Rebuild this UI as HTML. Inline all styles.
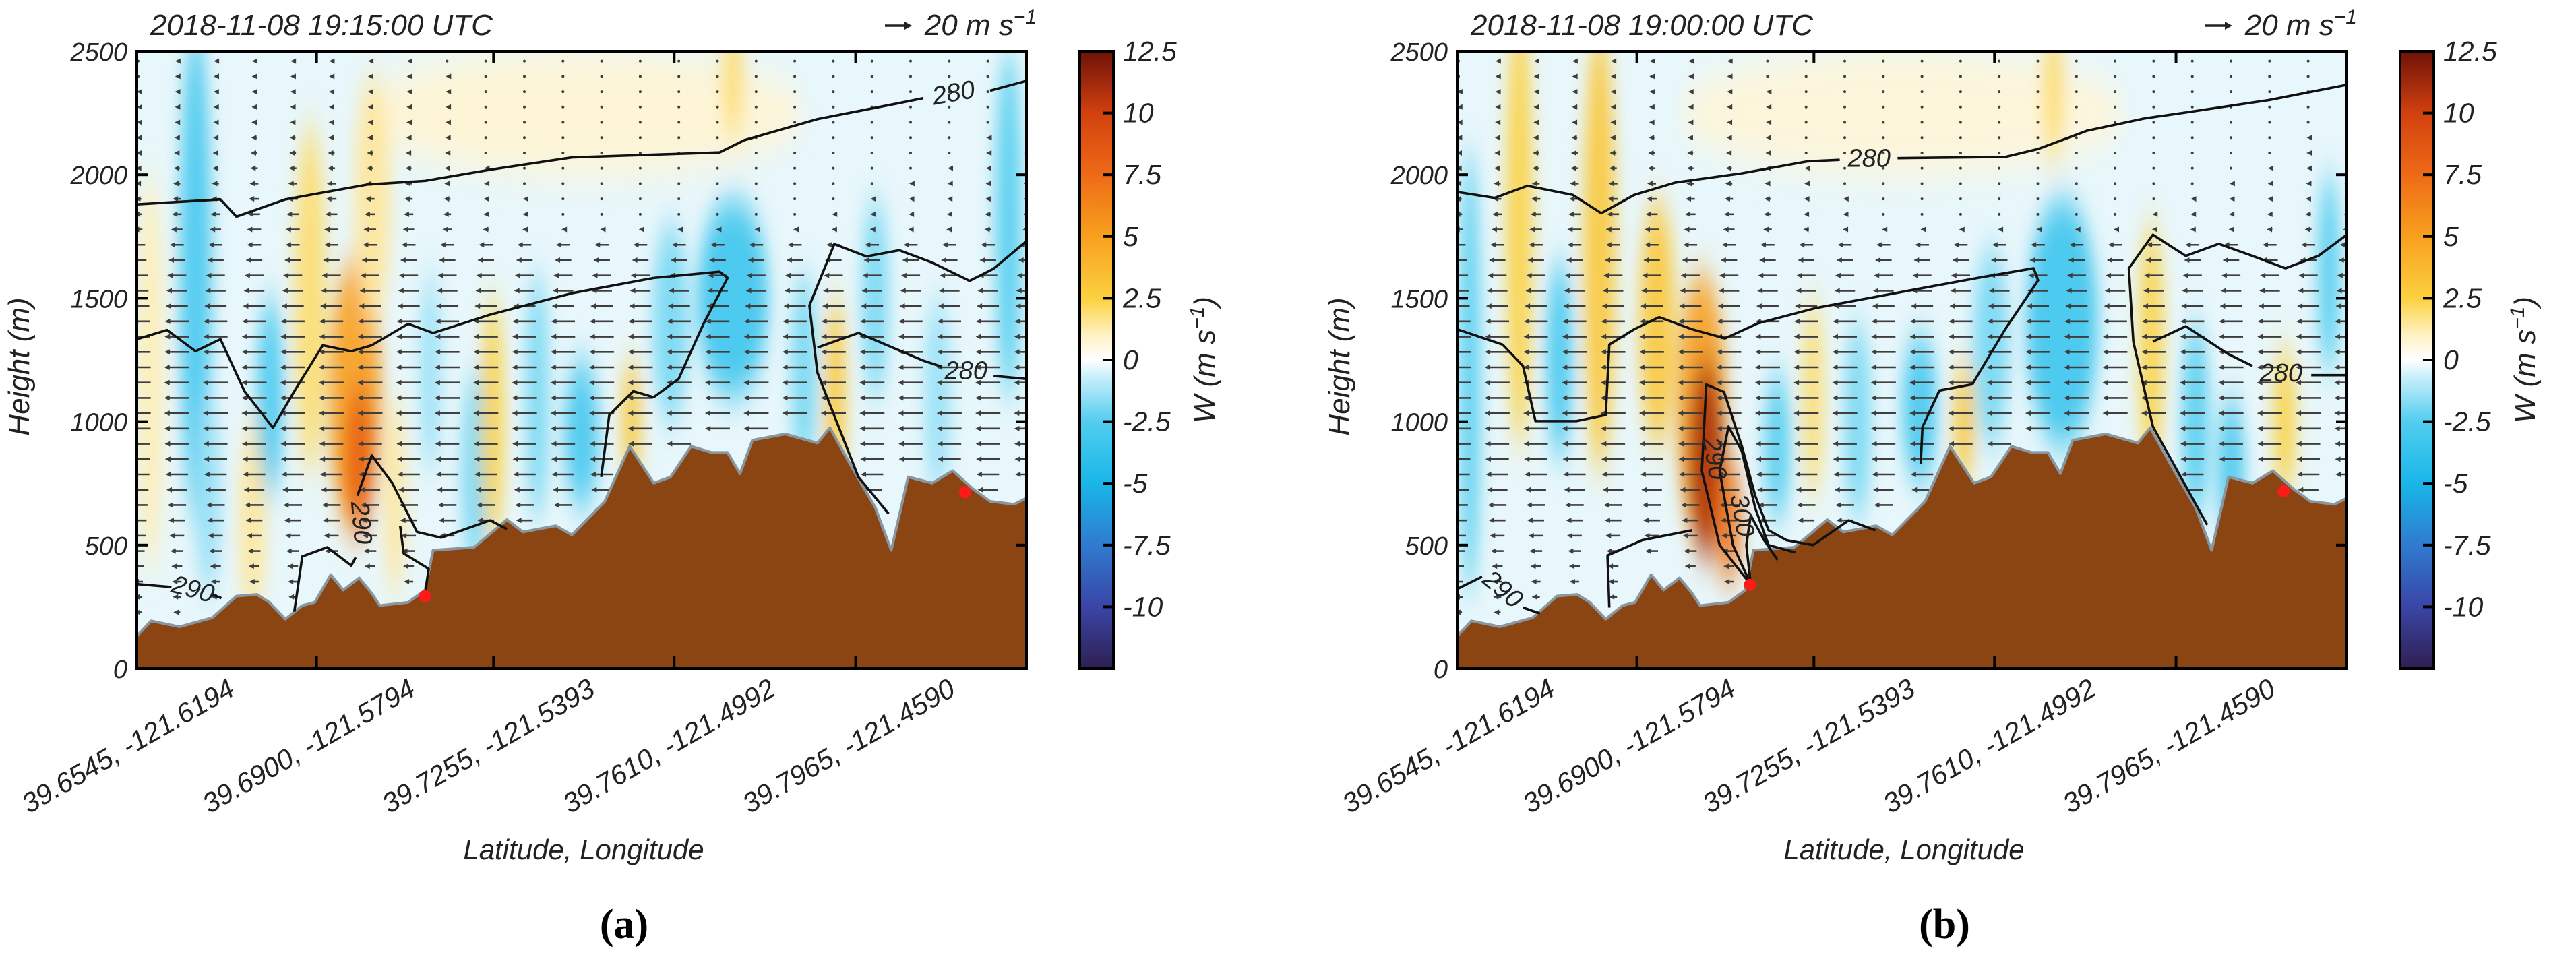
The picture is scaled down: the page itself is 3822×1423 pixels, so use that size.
<!DOCTYPE html>
<html><head><meta charset="utf-8"><style>
html,body{margin:0;padding:0;background:#fff;}
svg{display:block;font-family:"Liberation Sans",Arial,sans-serif;}
</style></head><body>
<svg id="root" width="3822" height="1423" viewBox="0 0 3822 1423" xmlns="http://www.w3.org/2000/svg">
<defs>
<filter id="blur" x="-50%" y="-50%" width="200%" height="200%"><feGaussianBlur stdDeviation="12 28"/></filter>
<linearGradient id="cbar" x1="0" y1="1" x2="0" y2="0">
<stop offset="0" stop-color="#2e1f52"/><stop offset="0.1" stop-color="#3a45a6"/><stop offset="0.2" stop-color="#2f7bcf"/>
<stop offset="0.3" stop-color="#19b6e8"/><stop offset="0.4" stop-color="#52cdf0"/><stop offset="0.47" stop-color="#c4eefa"/>
<stop offset="0.5" stop-color="#ffffff"/><stop offset="0.54" stop-color="#fff1c4"/><stop offset="0.6" stop-color="#fcd140"/>
<stop offset="0.7" stop-color="#f8a01e"/><stop offset="0.8" stop-color="#ee6a16"/><stop offset="0.9" stop-color="#d2400f"/>
<stop offset="1" stop-color="#6e1208"/>
</linearGradient>
<clipPath id="clipA"><rect x="203" y="76" width="1320" height="916"/></clipPath>
<clipPath id="clipB"><rect x="2162" y="76" width="1320" height="916"/></clipPath>
</defs>
</svg>
<script>
// ---- data ----
const yTicks=[0,500,1000,1500,2000,2500];
const xTickLabels=["39.6545, -121.6194","39.6900, -121.5794","39.7255, -121.5393","39.7610, -121.4992","39.7965, -121.4590"];
const xTickPos=[20.2,40.1,60.4,80.8];
const xLabelPos=[11.2,31.5,51.7,72.0,92.2];
const cbTicks=[12.5,10,7.5,5,2.5,0,-2.5,-5,-7.5,-10];
const terrainX=[0,1.6,4.8,8.5,11.2,13.5,14.9,16.7,18.6,20,21.8,23.2,25,26.4,27.3,30.5,32.4,33.3,37.9,41.6,43.4,47.1,48.9,52.6,55.4,58.1,60,62.3,64.6,66.4,67.8,69.2,72.9,76.5,77.9,80.2,83,84.8,86.7,89.4,91.7,94,95.9,98.6,100];
const terrainH=[131,193,169,206,293,300,268,200,255,268,380,318,367,305,255,268,318,479,491,603,553,578,541,677,900,751,776,900,875,875,789,925,950,913,975,826,652,479,776,751,801,727,677,665,690];
const uHeights=[2500,2200,2000,1800,1600,1400,1200,1000,800,600,400,200];
const uSpeeds=[-1.5,-2,-3,-5,-9,-11.5,-12,-12,-11,-8,-5,-3];
const upperScaleA=[1.5,2,2,2.5,2.5,2.5,2.2,2,1.6,1,0.7,0.5,0.5,0.5,0.5,0.5,0.5,0.5,0.6,0.7,0.8,1,1.2,1.3];
const upperScaleB=[1.5,2,2.2,2.5,2.5,2.5,2.2,2,1.5,1,0.7,0.5,0.5,0.5,0.5,0.5,0.5,0.5,0.6,0.7,0.8,1,1.2,1.3];
const plumesA=[[50,2250,25,250,0.8],[1.5,1200,1.5,800,1.2],[6.6,1600,1.8,1000,-3],[8,700,1.5,400,-1.5],[13,600,1.5,400,1.5],[15,1100,1.5,400,-3],[19.5,1500,1.8,700,2],[24.5,1100,3,550,5],[25,850,1.7,300,8],[26.5,1900,2,500,1.5],[29,700,1.2,400,1.5],[33,1200,1.2,400,-1.5],[38,800,1.5,400,-2],[40,1000,1.3,500,2.5],[45,1100,1.3,500,-2],[50,950,2,300,-3],[55.6,1000,1.1,250,3],[60,1400,2,400,-2],[67,1500,4,400,-3.5],[67,2400,1.2,250,2],[75,1200,1.5,400,-2],[78.5,1100,1.2,400,3],[83,1500,1.5,400,-2],[90,1100,1.5,400,-1.5],[98,1800,1.5,700,-2.5]];
const plumesB=[[50,2250,25,250,0.7],[1.4,1200,1.2,900,-2.5],[7,1800,1.5,900,2.5],[11.5,1250,1.5,400,-3],[16,1700,1.8,900,3],[22.5,1400,2,500,3],[27.5,1050,2.8,550,5],[28,850,2,400,11],[30.5,600,1.5,250,7],[36,900,1.5,300,-2.5],[40,1100,1.2,400,2],[45,1000,1.5,400,-2],[52,1050,2,300,-3],[57,1000,1.2,250,3],[60,1300,2,400,-2],[68,1400,4,500,-3.5],[67,2350,1.2,300,2],[78,1300,1.4,500,2.5],[83,1000,1.5,400,-2.5],[87,800,1.5,300,-3],[93,1000,1.3,300,2.5],[98,1600,1.3,400,-2.5]];
const contoursA=[
[[0,1880],[9.4,1900],[11.2,1830],[16.7,1900],[25.9,1960],[32.4,1975],[39.7,2020],[48.9,2070],[65.5,2090],[68.3,2140],[76.5,2225],[85.7,2290],[88.4,2310]],
[[95.9,2340],[100,2380]],
[[0,1334],[3.4,1371],[6.6,1285],[9.4,1334],[12.1,1123],[15.3,975],[17.7,1123],[20.9,1309],[24.1,1285],[26.4,1309],[30.5,1396],[33.3,1359],[39.7,1433],[48.9,1520],[58.1,1582],[65.5,1607],[66.4,1582],[63.7,1396],[60.9,1173],[58.1,1099],[55.8,1123],[53.1,1026],[52.2,776]],
[[84.5,627],[81.1,776],[76.5,1198],[75.6,1470],[78.4,1719],[82,1669],[85.7,1694],[89.4,1644],[93.6,1570],[96.3,1619],[100,1731]],
[[76.5,1300],[81.1,1359],[88.4,1247],[90.5,1222]],
[[96.3,1185],[100,1173]],
[[0,342],[3.9,330]],[[8.5,300],[9.5,285]],
[[17.7,230],[18.6,454],[21.4,491],[24.1,417],[24.6,450]],
[[24.8,700],[26.4,863],[28.7,752],[31.5,553],[34.2,530],[39.7,600],[41.6,565]],
[[29.6,578],[30,466],[32.8,404],[32.4,300]]];
const contoursB=[
[[0,1930],[4.2,1906],[7.9,1955],[13,1918],[16.2,1844],[19.9,1918],[24.5,1968],[31.9,2005],[39.4,2054],[43,2060]],
[[49.5,2067],[61.6,2072],[65.3,2104],[70.8,2178],[77.3,2228],[81.9,2252],[91.2,2302],[100,2364]],
[[0,1374],[5.1,1312],[7.4,1225],[8.8,1002],[13.4,1002],[16.7,1027],[17.1,1312],[19.9,1374],[22.7,1423],[26.4,1374],[30.1,1337],[33.8,1398],[40.3,1460],[49.5,1522],[58.8,1584],[64.8,1621],[65.3,1572],[61.6,1374],[57.9,1151],[54.2,1126],[52.3,978],[52.1,829]],
[[84.3,582],[78.2,980],[76,1324],[75.5,1621],[78.2,1757],[81.9,1671],[85.6,1720],[89.4,1671],[93.1,1621],[96.8,1671],[100,1757]],
[[78.2,1324],[81.9,1386],[86.6,1275],[89.4,1225]],
[[96,1188],[100,1188]],
[[0,322],[2.8,372]],[[7.4,247],[9.3,223]],
[[17.1,247],[16.9,458],[20.8,520],[26.4,560]],
[[33,340],[29.5,500],[27.5,800],[28,1150],[30,1120],[32,900],[33.5,700],[35,560],[37,520],[40,500],[44,600],[47,560]],
[[33,340],[31,500],[29.5,800],[30.5,980],[32,880],[33.5,650],[35,500],[38,470]],
[[33,340],[32.5,500],[33,620],[34.5,520],[36,440]]];
const labelsA=[["280",91.8,2330,-10],["280",93.2,1205,0],["290",6.3,320,15],["290",25.2,590,85]];
const labelsB=[["280",46.3,2065,0],["280",92.6,1195,0],["290",5.1,320,40],["290",28.9,850,80],["300",32,620,80]];
const redDotsA=[[32.4,293],[93.1,714]];
const redDotsB=[[32.9,339],[92.9,718]];

// ---- drawing ----
const NS="http://www.w3.org/2000/svg";
const root=document.getElementById('root');
function mk(tag,attrs,parent){const e=document.createElementNS(NS,tag);for(const k in attrs)e.setAttribute(k,attrs[k]);(parent||root).appendChild(e);return e;}
const stops=[[-12.5,[46,31,82]],[-10,[58,69,166]],[-7.5,[47,123,207]],[-5,[25,182,232]],[-2.5,[82,205,240]],[-0.8,[196,238,250]],[0,[255,255,255]],[1,[255,241,196]],[2.5,[252,209,64]],[5,[248,160,30]],[7.5,[238,106,22]],[10,[210,64,15]],[12.5,[110,18,8]]];
function col(v){v=Math.max(-12.5,Math.min(12.5,v));for(let i=0;i<stops.length-1;i++){const a=stops[i],b=stops[i+1];if(v<=b[0]){const t=(v-a[0])/(b[0]-a[0]);const c=a[1].map((x,j)=>Math.round(x+(b[1][j]-x)*t));return `rgb(${c})`;}}return 'rgb(110,18,8)';}
function interp(xs,ys,x){if(x<=xs[0])return ys[0];for(let i=0;i<xs.length-1;i++){if(x<=xs[i+1]){const t=(x-xs[i])/(xs[i+1]-xs[i]);return ys[i]+(ys[i+1]-ys[i])*t;}}return ys[ys.length-1];}

function panel(cfg){
  const L=cfg.left,T=76,W=1320,H=916,B=T+H;
  const X=p=>L+p/100*W, Y=h=>B-h/2500*H;
  const g=mk('g',{});
  
  
  const field=mk('g',{'clip-path':`url(#${cfg.clip})`},g);
  
  
  mk('rect',{x:L,y:T,width:W,height:H,fill:'#e8f7fb'},field);
  const blurG=mk('g',{filter:'url(#blur)'},field);
  cfg.plumes.forEach(p=>{
    const e=mk('ellipse',{cx:X(p[0]),cy:Y(p[1]),rx:p[2]/100*W,ry:p[3]/2500*H,fill:col(p[4]),opacity:0.9},blurG);
    
    
  });
  const arrows=mk('g',{stroke:'#3e3e3e','stroke-width':2.6,fill:'#3e3e3e'},field);
  
  
  for(let k=0;k<24;k++){
    const px=L+2+k*57.3;const xp=(px-L)/W*100;
    const th=interp(terrainX,terrainH,xp);
    for(let h=2460;h>th+40;h-=62){
      let u=interp(uHeights.slice().reverse(),uSpeeds.slice().reverse(),h);
      if(h>1750)u*=cfg.upper[k]*0.5;
      const len=Math.abs(u)*3.1;const y=Y(h);
      if(len<4){mk('circle',{cx:px,cy:y,r:2,stroke:'none'},arrows);continue;}
      mk('line',{x1:px+len/2,y1:y,x2:px-len/2+4,y2:y},arrows);
      mk('path',{d:`M${px-len/2},${y} l8,-4 l0,8 z`,stroke:'none'},arrows);
    }
  }
  let d=`M${X(0)},${B} `;terrainX.forEach((x,i)=>{d+=`L${X(x)},${Y(terrainH[i])} `;});d+=`L${X(100)},${B} Z`;
  const terr=mk('path',{d:d,fill:'#8b4513',stroke:'#8896a0','stroke-width':4,'stroke-linejoin':'round'},field);
  
  
  cfg.contours.forEach(c=>{
    const pl=mk('polyline',{points:c.map(p=>`${X(p[0])},${Y(p[1])}`).join(' '),fill:'none',stroke:'#111','stroke-width':3.6,'stroke-linejoin':'round'},field);
    
    
  });
  cfg.labels.forEach(l=>{
    const t=mk('text',{x:X(l[1]),y:Y(l[2])+12,'text-anchor':'middle','font-size':38,'font-style':'italic',fill:'#222',transform:`rotate(${l[3]},${X(l[1])},${Y(l[2])})`},field);
    t.textContent=l[0];
    
    
  });
  cfg.dots.forEach(p=>{
    const c=mk('circle',{cx:X(p[0]),cy:Y(p[1]),r:9,fill:'#ff1a1a'},field);
    
    
  });
  const fr=mk('rect',{x:L,y:T,width:W,height:H,fill:'none',stroke:'#000','stroke-width':4},g);
  
  
  yTicks.forEach(v=>{
    mk('line',{x1:L,y1:Y(v),x2:L+16,y2:Y(v),stroke:'#000','stroke-width':4},g);
    mk('line',{x1:L+W,y1:Y(v),x2:L+W-16,y2:Y(v),stroke:'#000','stroke-width':4},g);
    const t=mk('text',{x:L-14,y:Y(v)+14,'text-anchor':'end','font-size':38,'font-style':'italic',fill:'#222'},g);
    t.textContent=v;
    
    
  });
  xTickPos.forEach(p=>{
    mk('line',{x1:X(p),y1:B,x2:X(p),y2:B-18,stroke:'#000','stroke-width':4},g);
    mk('line',{x1:X(p),y1:T,x2:X(p),y2:T+18,stroke:'#000','stroke-width':4},g);
  });
  xTickLabels.forEach((s,i)=>{
    const x=X(xLabelPos[i]),y=1030;
    const t=mk('text',{x:x,y:y,'text-anchor':'end','font-size':41,'font-style':'italic',fill:'#222',transform:`rotate(-30,${x},${y})`},g);
    t.textContent=s;
    
    
  });
  const xt=mk('text',{x:L+663,y:1275,'text-anchor':'middle','font-size':42,'font-style':'italic',fill:'#222'},g);
  xt.textContent='Latitude, Longitude';
  
  
  const yt=mk('text',{x:L-160,y:544,'text-anchor':'middle','font-size':44,'font-style':'italic',fill:'#222',transform:`rotate(-90,${L-160},544)`},g);
  yt.textContent='Height (m)';
  
  
  const tt=mk('text',{x:L+20,y:52,'font-size':44,'font-style':'italic',fill:'#222'},g);
  tt.textContent=cfg.title;
  
  
  mk('line',{x1:L+1110,y1:38,x2:L+1140,y2:38,stroke:'#222','stroke-width':3.5},g);
  mk('path',{d:`M${L+1150},38 l-11,-6 l0,12 z`,fill:'#222'},g);
  const rv=mk('text',{x:L+1335,y:52,'text-anchor':'end','font-size':44,'font-style':'italic',fill:'#222'},g);
  rv.innerHTML='20 m s<tspan dy="-17" font-size="30">−1</tspan>';
  
  
  const cx=L+1399;
  const cb=mk('rect',{x:cx,y:T,width:50,height:H,fill:'url(#cbar)',stroke:'#000','stroke-width':4},g);
  
  
  const CY=v=>T+H/2-v/25*H;
  cbTicks.forEach(v=>{
    mk('line',{x1:cx+50,y1:CY(v),x2:cx+34,y2:CY(v),stroke:'#000','stroke-width':4},g);
    const t=mk('text',{x:cx+64,y:CY(v)+14,'font-size':41,'font-style':'italic',fill:'#222'},g);
    t.textContent=v;
    
    
  });
  const wl=mk('text',{x:cx+200,y:T+H/2,'text-anchor':'middle','font-size':44,'font-style':'italic',fill:'#222',transform:`rotate(-90,${cx+200},${T+H/2})`},g);
  wl.innerHTML='W (m s<tspan dy="-16" font-size="30">−1</tspan><tspan dy="16">)</tspan>';
  
  
  const pl=mk('text',{x:L+723,y:1392,'text-anchor':'middle','font-size':62,'font-weight':'bold','font-family':'"Liberation Serif",serif',fill:'#000'},g);
  pl.textContent=cfg.tag;
  
  
}
panel({left:203,clip:'clipA',name:'panel-a',title:'2018-11-08 19:15:00 UTC',tag:'(a)',plumes:plumesA,contours:contoursA,labels:labelsA,dots:redDotsA,upper:upperScaleA});
panel({left:2162,clip:'clipB',name:'panel-b',title:'2018-11-08 19:00:00 UTC',tag:'(b)',plumes:plumesB,contours:contoursB,labels:labelsB,dots:redDotsB,upper:upperScaleB});
</script>
</body></html>
